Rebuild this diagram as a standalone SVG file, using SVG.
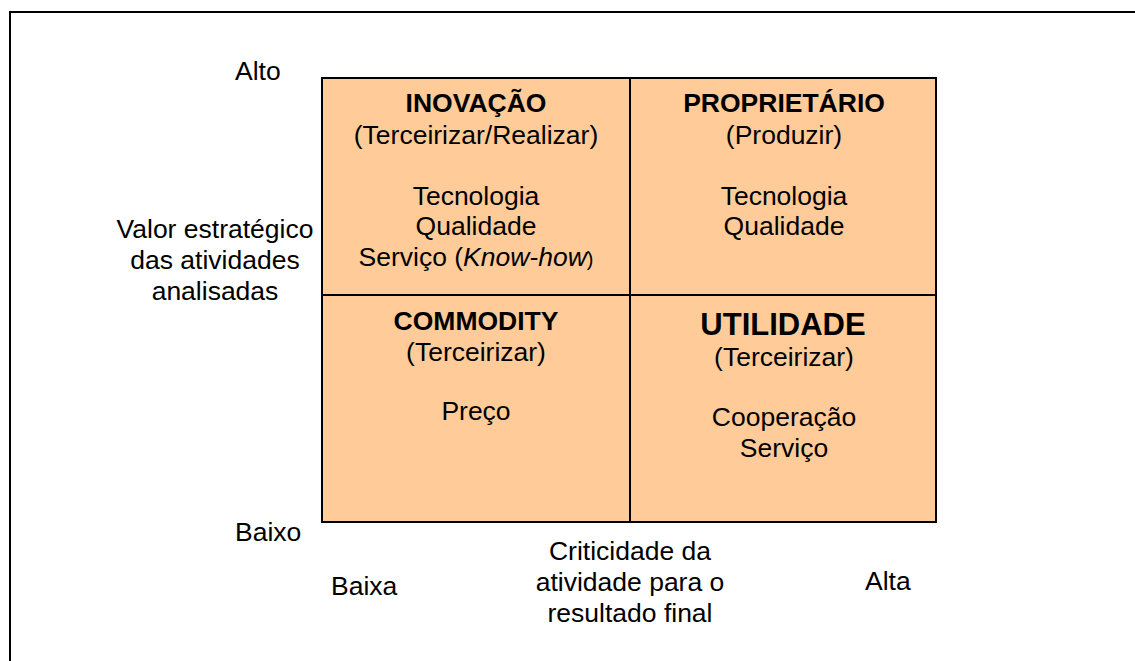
<svg xmlns="http://www.w3.org/2000/svg" width="1135" height="661" viewBox="0 0 1135 661">
<style>
text{font-family:"Liberation Sans",Arial,sans-serif;font-size:26.5px;fill:#000;text-anchor:middle}
.b{font-weight:bold}
.big{font-size:31px}
.cell{fill:#FFCC99;stroke:#000;stroke-width:2}
.l{text-anchor:start}
</style>
<rect x="0" y="0" width="1135" height="661" fill="#fff"/>
<rect x="10" y="12" width="1140" height="670" fill="none" stroke="#000" stroke-width="2"/>
<g id="axis-labels">
<text class="l" x="235" y="80">Alto</text>
<text x="215" y="238">Valor estratégico</text>
<text x="215" y="269">das atividades</text>
<text x="215" y="300">analisadas</text>
<text class="l" x="235" y="541">Baixo</text>
<text class="l" x="331" y="595">Baixa</text>
<text x="630" y="560">Criticidade da</text>
<text x="630" y="591">atividade para o</text>
<text x="630" y="622">resultado final</text>
<text class="l" x="865" y="590">Alta</text>
</g>
<g id="inovacao">
<rect class="cell" x="322" y="78" width="308" height="217"/>
<text class="b" x="476" y="112">INOVAÇÃO</text>
<text x="476" y="144">(Terceirizar/Realizar)</text>
<text x="476" y="205">Tecnologia</text>
<text x="476" y="235">Qualidade</text>
<text x="476" y="266">Serviço (<tspan font-style="italic">Know-how</tspan><tspan font-size="20">)</tspan></text>
</g>
<g id="proprietario">
<rect class="cell" x="630" y="78" width="306" height="217"/>
<text class="b" x="784" y="112">PROPRIETÁRIO</text>
<text x="784" y="144">(Produzir)</text>
<text x="784" y="205">Tecnologia</text>
<text x="784" y="235">Qualidade</text>
</g>
<g id="commodity">
<rect class="cell" x="322" y="295" width="308" height="227"/>
<text class="b" x="476" y="330">COMMODITY</text>
<text x="476" y="361">(Terceirizar)</text>
<text x="476" y="420">Preço</text>
</g>
<g id="utilidade">
<rect class="cell" x="630" y="295" width="306" height="227"/>
<text class="b big" x="783" y="335">UTILIDADE</text>
<text x="784" y="366">(Terceirizar)</text>
<text x="784" y="426">Cooperação</text>
<text x="784" y="457">Serviço</text>
</g>
<g id="connectors"></g>
</svg>
